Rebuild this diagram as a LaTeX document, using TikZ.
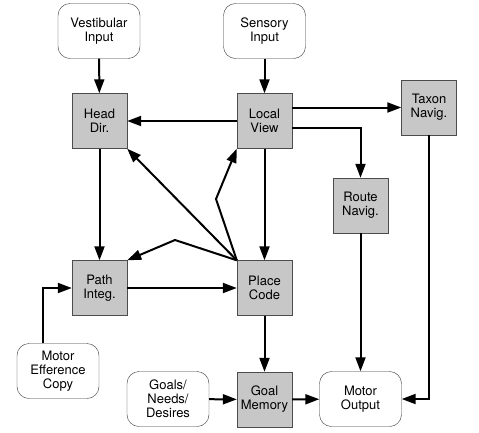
\documentclass[tikz,border=0pt]{standalone}
\usepackage{fontspec}
\setmainfont{TeX Gyre Heros}
\usetikzlibrary{arrows.meta}
\tikzstyle{block}=[rectangle,fill=black!22,draw=black!70,minimum width=55pt,minimum height=55pt,inner sep=0pt,align=center,font=\fontsize{13}{14}\selectfont]
\tikzstyle{io}=[rectangle,rounded corners=12pt,draw=black!80,minimum width=82pt,minimum height=55pt,inner sep=0pt,align=center,font=\fontsize{13}{14}\selectfont]
\tikzstyle{edge} = [draw,line width=2pt,-{Triangle[length=14pt,width=10pt]}]

\begin{document}
\begin{tikzpicture}[x=1pt,y=-1pt]
    \useasboundingbox (0,0) rectangle (479,432);

    % boxes with rounded corners
    \foreach \pos/ \name/ \txt in {{(99,31)/vest/{Vestibular\\Input}}, {(264.5,31)/sens/{Sensory\\Input}},
        {(58,371)/motoreff/{Motor\\Efference\\Copy}}, {(168,399)/goals/{Goals/\\Needs/\\Desires}},
        {(360.5,399)/motorout/{Motor\\Output}}}
        \node[io] (\name) at \pos {\txt};

    % grey blocks
    \foreach \pos/ \name/ \txt in {{(99.5,121)/head/{Head\\Dir.}}, {(264.5,121)/local/{Local\\View}},
        {(429,107.5)/taxon/{Taxon\\Navig.}}, {(360.5,205.5)/route/{Route\\Navig.}},
        {(99.5,288)/path/{Path\\Integ.}}, {(264.5,288)/place/{Place\\Code}},
        {(264.5,399.5)/goalmem/{Goal\\Memory}}}
        \node[block] (\name) at \pos {\txt};

    % straight connections
    \foreach \source/ \dest in {vest/head, sens/local, local/head, head/path, local/place,
        path/place, place/goalmem, goals/goalmem, goalmem/motorout, route/motorout}
        \path[edge] (\source) -- (\dest);

    \path[edge] (local.east |- taxon.west) -- (taxon.west);
    \path[edge] ([yshift=-7pt]local.east) -| (route.north);
    \path[edge] (taxon.south) |- (motorout.east);
    \path[edge] ([xshift=-15pt]motoreff.north) |- (path.west);

    % from the place code corner
    \coordinate (kinkA) at (216,199);
    \coordinate (kinkB) at (175,240);
    \path[edge] (place.north west) -- (head.south east);
    \path[edge] (place.north west) -- (kinkA) -- (local.south west);
    \path[edge] (place.north west) -- (kinkB) -- (path.north east);
\end{tikzpicture}
\end{document}
